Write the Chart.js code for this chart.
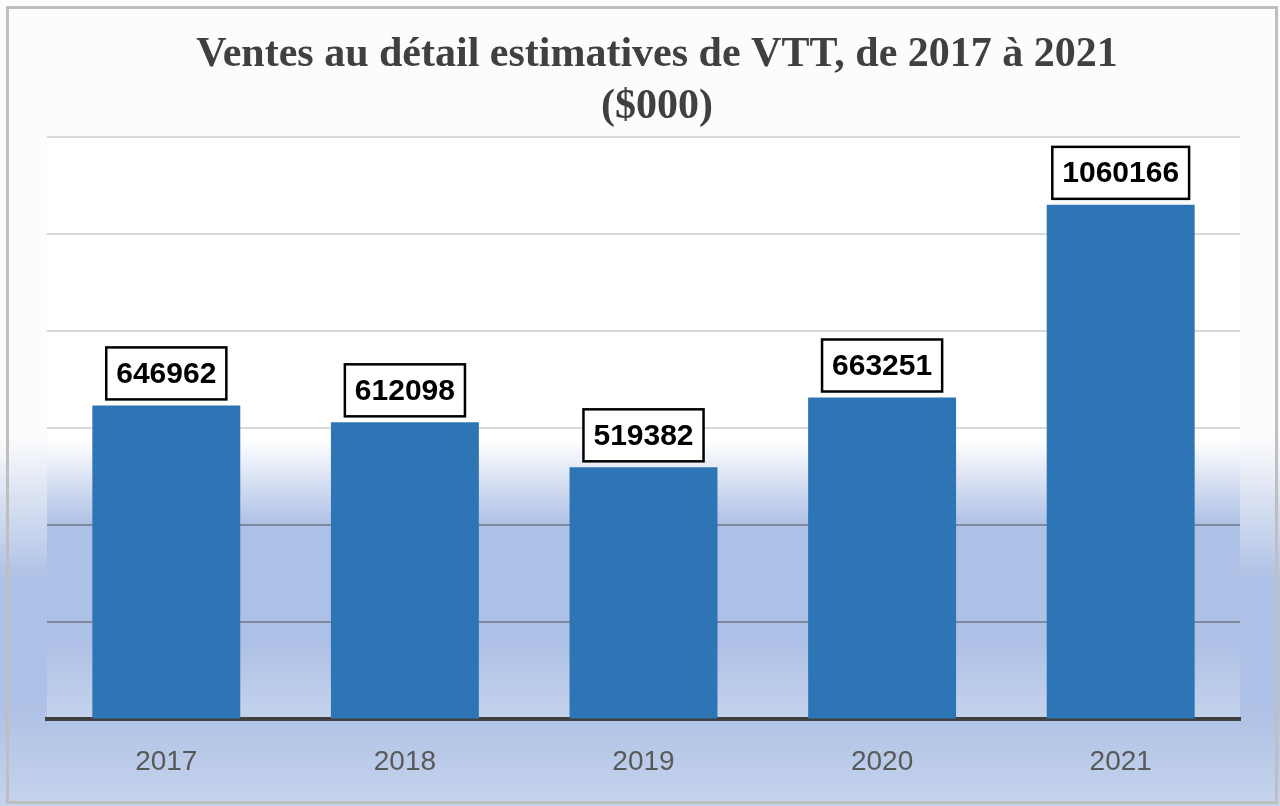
<!DOCTYPE html>
<html>
<head>
<meta charset="utf-8">
<script src="https://cdn.jsdelivr.net/npm/chart.js@4"></script>
<style>
  html, body { margin: 0; padding: 0; background: #fff; }
  #wrap { width: 1280px; height: 806px; position: relative; }
</style>
</head>
<body>
<div id="wrap"><canvas id="salesChart"></canvas></div>
<script>
// --- données ---
const years = ['2017', '2018', '2019', '2020', '2021'];
const sales = [646962, 612098, 519382, 663251, 1060166];
const titleLines = ['Ventes au détail estimatives de VTT, de 2017 à 2021', '($000)'];
const yMax = 1200000;
const yStep = 200000;

// fond dégradé + cadre gris
const backgroundPlugin = {
    id: 'bg',
    beforeDraw(chart) {
        const c = chart.ctx;
        const W = chart.width, H = chart.height;
        c.save();
        let g = c.createLinearGradient(0, 0, 0, H);
        g.addColorStop(0, '#fcfcfc');
        g.addColorStop(0.54, '#fcfcfc');
        g.addColorStop(0.72, '#adc0e5');
        g.addColorStop(0.87, '#adc0e5');
        g.addColorStop(1, '#c5d3ec');
        c.fillStyle = g;
        c.fillRect(0, 0, W, H);

        const a = chart.chartArea;
        g = c.createLinearGradient(0, a.top, 0, a.bottom);
        const h = a.bottom - a.top;
        g.addColorStop(0, '#ffffff');
        g.addColorStop((440 - 137) / h, '#ffffff');
        g.addColorStop((525 - 137) / h, '#adc0e5');
        g.addColorStop((640 - 137) / h, '#adc0e5');
        g.addColorStop(1, '#c5d3ec');
        c.fillStyle = g;
        c.fillRect(a.left, a.top, a.right - a.left, h);

        c.strokeStyle = '#bfbfbf';
        c.lineWidth = 3;
        c.strokeRect(7.5, 7.5, 1269, 795);

        // titre (un peu décalé vers la droite comme dans l'original)
        c.fillStyle = '#404040';
        c.font = 'bold 42px "Liberation Serif", "Times New Roman", serif';
        c.textAlign = 'center';
        c.textBaseline = 'middle';
        c.fillText(titleLines[0], 657, 55);
        c.fillText(titleLines[1], 657, 107);
        c.restore();
    }
};

// étiquettes encadrées au-dessus des barres
const boxLabelPlugin = {
    id: 'boxLabels',
    afterDatasetsDraw(chart) {
        const c = chart.ctx;
        const meta = chart.getDatasetMeta(0);
        c.save();
        c.font = 'bold 30px "Liberation Sans", Arial, sans-serif';
        c.textAlign = 'center';
        c.textBaseline = 'middle';
        meta.data.forEach((bar, i) => {
            const txt = String(sales[i]);
            const w = c.measureText(txt).width + 20;
            const h = 52;
            const bottom = bar.y - 6;
            c.fillStyle = '#ffffff';
            c.fillRect(bar.x - w / 2, bottom - h, w, h);
            c.strokeStyle = '#000000';
            c.lineWidth = 2.5;
            c.strokeRect(bar.x - w / 2, bottom - h, w, h);
            c.fillStyle = '#000000';
            c.fillText(txt, bar.x, bottom - h / 2 + 1);
        });
        c.restore();
    }
};

const ctx = document.getElementById('salesChart').getContext('2d');
new Chart(ctx, {
    type: 'bar',
    data: {
        labels: years,
        datasets: [{
            data: sales,
            backgroundColor: '#2e75b6',
            barPercentage: 0.62,
            categoryPercentage: 1
        }]
    },
    options: {
        responsive: true,
        maintainAspectRatio: false,
        animation: false,
        layout: { padding: { left: 47, right: 40, top: 137, bottom: 9 } },
        plugins: {
            legend: { display: false },
            tooltip: { enabled: false },
            title: { display: false }
        },
        scales: {
            y: {
                min: 0,
                max: yMax,
                ticks: { display: false, stepSize: yStep },
                border: { display: false },
                grid: {
                    drawTicks: false,
                    lineWidth: 2,
                    color: (sc) => {
                        const v = sc.tick ? sc.tick.value : 0;
                        if (v === 0) return 'rgba(0,0,0,0)';
                        if (v <= 400000) return '#7f899b';
                        return '#d9d9d9';
                    }
                }
            },
            x: {
                grid: { display: false },
                border: { display: true, color: '#404040', width: 4 },
                ticks: {
                    color: '#595959',
                    padding: 18,
                    font: { family: '"Liberation Sans", Arial, sans-serif', size: 28 }
                }
            }
        }
    },
    plugins: [backgroundPlugin, boxLabelPlugin]
});
</script>
</body>
</html>
